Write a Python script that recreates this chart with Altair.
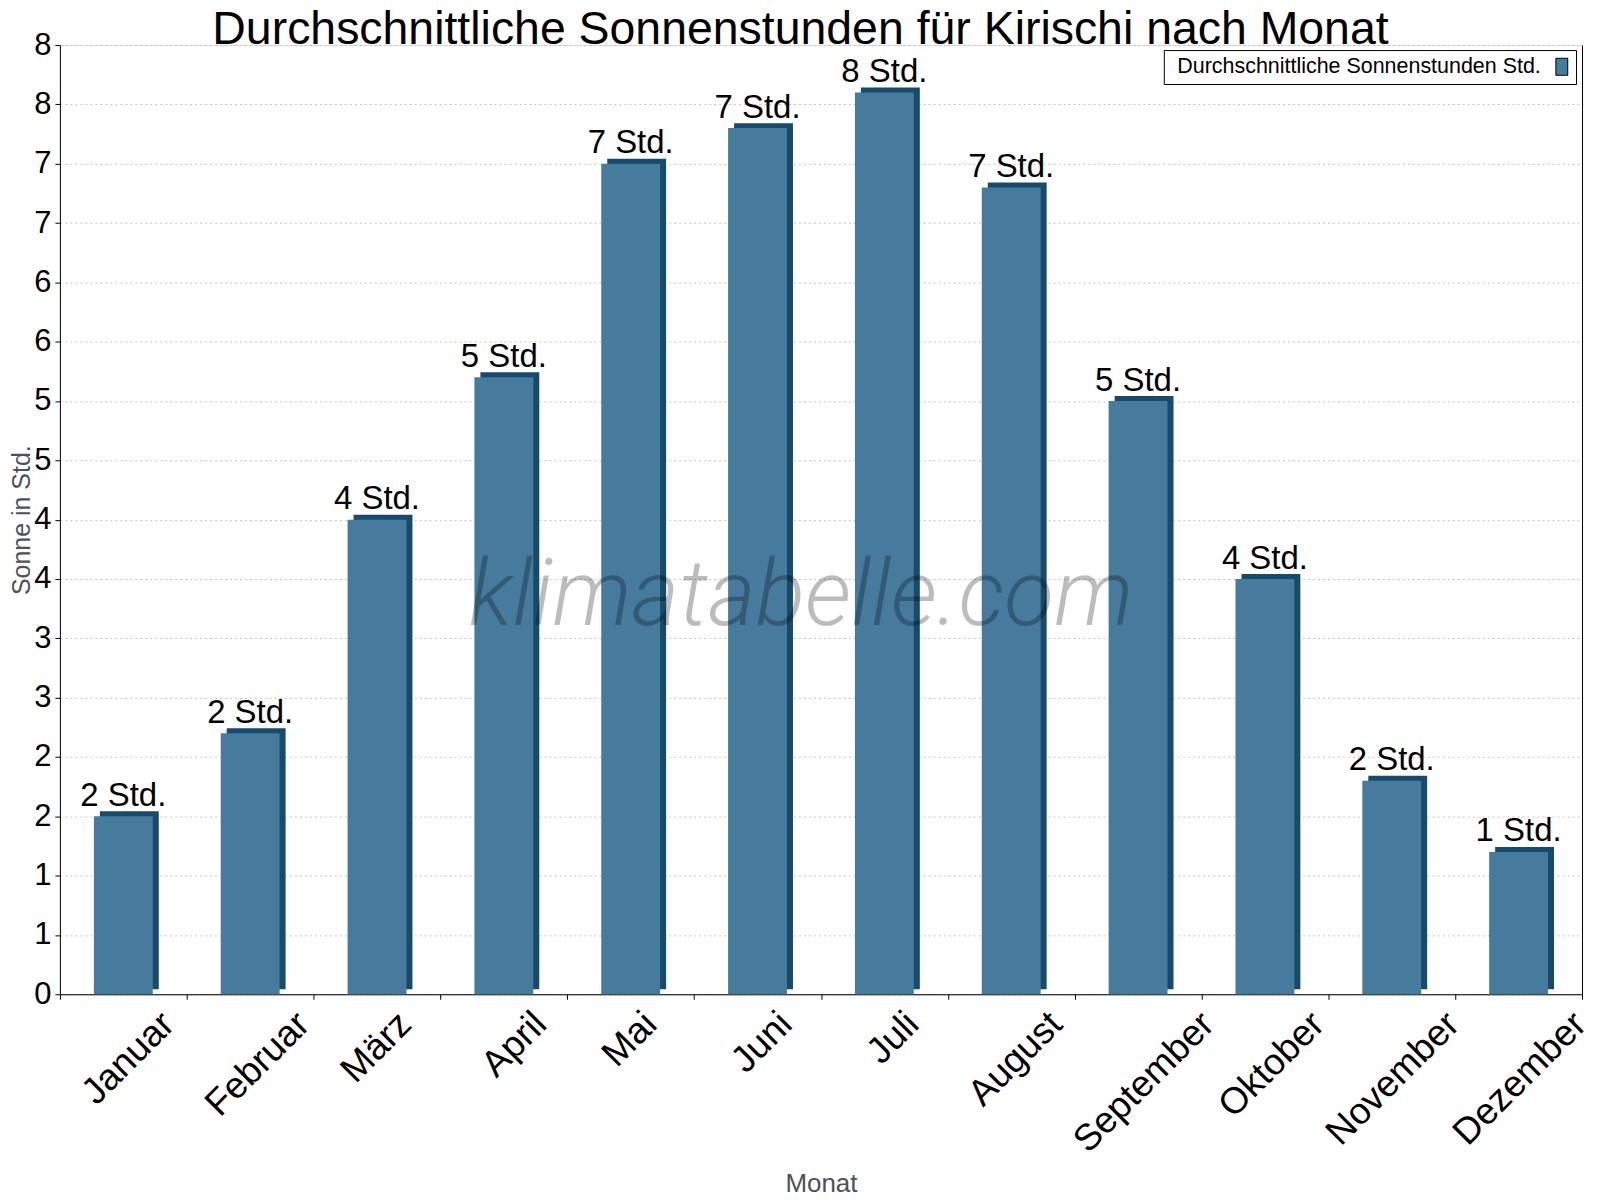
import altair as alt
import pandas as pd

# ---- data ----
MONTHS = ["Januar", "Februar", "März", "April", "Mai", "Juni", "Juli",
          "August", "September", "Oktober", "November", "Dezember"]
SUN_HOURS = [1.5, 2.2, 4.0, 5.2, 7.0, 7.3, 7.6, 6.8, 5.0, 3.5, 1.8, 1.2]
SERIES = "Durchschnittliche Sonnenstunden Std."
Y_TICKS = [0, 0.5, 1, 1.5, 2, 2.5, 3, 3.5, 4, 4.5, 5, 5.5, 6, 6.5, 7, 7.5, 8]
TITLE = ["Durchschnittliche Sonnenstunden für Kirischi nach Monat"]
X_TITLE = "Monat"
Y_TITLE = "Sonne in Std."
WATERMARK = ["klimatabelle.com"]

# ---- styles ----
FRONT = "#467B9D"
SIDE = "#174A6B"
FONT = "Liberation Sans"
TITLE_GRAY = "#4d5257"
W, H = 1525, 951

df = pd.DataFrame({"Monat": MONTHS, "Sonne": SUN_HOURS, "Serie": [SERIES] * len(MONTHS)})
wm = pd.DataFrame({"t": WATERMARK})
tt = pd.DataFrame({"t": TITLE})

y_scale = alt.Scale(domain=[0, 8], nice=False, zero=True)

x_enc = alt.X(
    "Monat:N", sort=MONTHS,
    scale=alt.Scale(paddingInner=0, paddingOuter=0),
    axis=alt.Axis(
        title=X_TITLE, labelAngle=315, labelAlign="right", labelBaseline="middle",
        labelFontSize=37, labelFont=FONT, labelColor="black",
        labelOffset={"expr": "-5 + 8.3*length(datum.label)"},
        labelPadding=19, labelOverlap=False, labelLimit=400,
        tickBand="extent", tickSize=5, tickColor="black", tickWidth=1,
        domainColor="black", domainWidth=1,
        titleFontSize=26, titleFont=FONT, titleColor=TITLE_GRAY, titleFontWeight="normal",
        titleX=W / 2, titleY=198, titleBaseline="alphabetic", titleAlign="center",
    ),
)

y_left = alt.Y(
    "Sonne:Q", scale=y_scale,
    axis=alt.Axis(
        title=Y_TITLE, values=Y_TICKS, labelExpr="'' + round(datum.value)",
        labelFontSize=31, labelFont=FONT, labelColor="black", labelPadding=4,
        labelBaseline="middle",
        tickSize=5, tickColor="black", domainColor="black", domainWidth=1,
        grid=True, gridColor="#c4c4c4", gridDash=[2, 3], gridWidth=1,
        titleFontSize=25, titleFont=FONT, titleColor=TITLE_GRAY, titleFontWeight="normal",
        titleAngle=270, titleX=-30, titleY=H / 2, titleBaseline="alphabetic",
        titleAlign="center",
    ),
)

y_right = alt.Y(
    "Sonne:Q", scale=y_scale,
    axis=alt.Axis(orient="right", labels=False, ticks=False, grid=False, title=None,
                  domainColor="black", domainWidth=1),
)

y_none = alt.Y("Sonne:Q", scale=y_scale, axis=None)

base = alt.Chart(df)

side = base.mark_bar(width=59, xOffset=6, yOffset=-5, color=SIDE).encode(
    x=x_enc, y=y_left
)

front = base.mark_bar(width=59).encode(
    x=alt.X("Monat:N", sort=MONTHS),
    y=y_right,
    color=alt.Color(
        "Serie:N",
        scale=alt.Scale(range=[FRONT]),
        legend=alt.Legend(
            title=None, orient="none", legendX=1106, legendY=5,
            padding=6, strokeColor="black", fillColor="white",
            symbolType="M-0.7,-1H0.7V1H-0.7Z", symbolSize=289,
            symbolStrokeColor="black", symbolStrokeWidth=1, symbolFillColor=FRONT,
            symbolOffset=382,
            labelFontSize=21.5, labelFont=FONT, labelColor="black",
            labelOffset={"expr": "-396"},
            labelLimit=600,
        ),
    ),
)

labels = base.transform_calculate(
    lab="round(datum.Sonne) + ' Std.'"
).mark_text(
    dy=-10.5, baseline="alphabetic", align="center", fontSize=33, font=FONT, color="black"
).encode(
    x=alt.X("Monat:N", sort=MONTHS),
    y=y_none,
    text="lab:N",
)

watermark = alt.Chart(wm).mark_text(
    font="Roboto", fontSize=92, fontStyle="italic", fontWeight=300,
    color="black", opacity=0.26, align="center", baseline="alphabetic",
).encode(
    x=alt.value(742.5), y=alt.value(581), text="t:N"
)

title = alt.Chart(tt).mark_text(
    font=FONT, fontSize=46.5, color="black", align="center", baseline="alphabetic",
).encode(
    x=alt.value(742), y=alt.value(-1.5), text="t:N"
)

chart = alt.layer(side, front, labels, watermark, title).resolve_scale(
    y="independent"
).properties(
    width=W, height=H,
    autosize=alt.AutoSizeParams(type="none"),
    padding={"left": 52, "top": 36, "right": 10, "bottom": 210},
).configure_view(stroke=None).configure(background="white")

chart.save("out.html", embed_options={"renderer": "svg", "actions": False})
